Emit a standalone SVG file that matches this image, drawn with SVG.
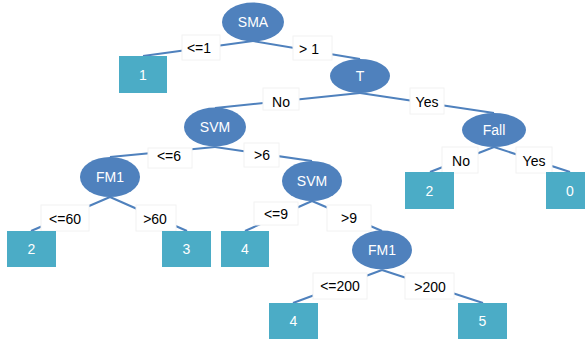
<svg xmlns="http://www.w3.org/2000/svg" width="585" height="342" viewBox="0 0 585 342">
  <style>
    .edge { stroke: #4F81BD; stroke-width: 2; fill: none; }
    .split { fill: #4F81BD; }
    .leaf { fill: #4BACC6; }
    .lbox { fill: #FFFFFF; stroke: #F2F2F2; stroke-width: 1; }
    .ntext { font-family: "Liberation Sans", Arial, sans-serif; font-size: 14px; fill: #FFFFFF; text-anchor: middle; }
    .ltext { font-family: "Liberation Sans", Arial, sans-serif; font-size: 14px; fill: #000000; text-anchor: middle; }
  </style>
  <rect width="585" height="342" fill="#FFFFFF"/>

  <!-- connectors: parent bottom to child top -->
  <g id="connectors">
    <line class="edge" x1="253" y1="41" x2="143" y2="56"/>
    <line class="edge" x1="253" y1="41" x2="360" y2="59"/>
    <line class="edge" x1="360" y1="93" x2="215" y2="108"/>
    <line class="edge" x1="360" y1="93" x2="494" y2="113"/>
    <line class="edge" x1="494" y1="147" x2="430" y2="172"/>
    <line class="edge" x1="494" y1="147" x2="570" y2="172"/>
    <line class="edge" x1="215" y1="147" x2="110" y2="157"/>
    <line class="edge" x1="215" y1="147" x2="312" y2="161"/>
    <line class="edge" x1="110" y1="197" x2="31" y2="231"/>
    <line class="edge" x1="110" y1="197" x2="187" y2="231"/>
    <line class="edge" x1="312" y1="201" x2="245" y2="231"/>
    <line class="edge" x1="312" y1="201" x2="382" y2="231"/>
    <line class="edge" x1="382" y1="270" x2="293" y2="303"/>
    <line class="edge" x1="382" y1="270" x2="483" y2="303"/>
  </g>

  <!-- edge labels -->
  <g id="edge-labels">
    <rect class="lbox" x="182" y="35" width="38" height="25"/>
    <text class="ltext" x="199" y="53">&lt;=1</text>
    <rect class="lbox" x="293" y="36" width="39" height="24"/>
    <text class="ltext" x="309" y="54">&gt; 1</text>
    <rect class="lbox" x="263" y="88" width="36" height="22"/>
    <text class="ltext" x="281" y="107">No</text>
    <rect class="lbox" x="410" y="88" width="34" height="26"/>
    <text class="ltext" x="427" y="107">Yes</text>
    <rect class="lbox" x="442" y="147" width="36" height="26"/>
    <text class="ltext" x="461" y="166">No</text>
    <rect class="lbox" x="516" y="147" width="36" height="26"/>
    <text class="ltext" x="534" y="166">Yes</text>
    <rect class="lbox" x="148" y="148" width="44" height="20"/>
    <text class="ltext" x="169" y="161">&lt;=6</text>
    <rect class="lbox" x="244" y="143" width="35" height="24"/>
    <text class="ltext" x="262" y="160">&gt;6</text>
    <rect class="lbox" x="41" y="205" width="48" height="26"/>
    <text class="ltext" x="65" y="224">&lt;=60</text>
    <rect class="lbox" x="136" y="205" width="40" height="26"/>
    <text class="ltext" x="155" y="224">&gt;60</text>
    <rect class="lbox" x="254" y="202" width="44" height="23"/>
    <text class="ltext" x="276" y="219">&lt;=9</text>
    <rect class="lbox" x="327" y="205" width="44" height="26"/>
    <text class="ltext" x="349" y="223">&gt;9</text>
    <rect class="lbox" x="313" y="273" width="54" height="26"/>
    <text class="ltext" x="340" y="291">&lt;=200</text>
    <rect class="lbox" x="405" y="273" width="49" height="26"/>
    <text class="ltext" x="430" y="292">&gt;200</text>
  </g>

  <!-- split nodes -->
  <g id="node-sma"><ellipse class="split" cx="253" cy="22" rx="31" ry="19.5"/><text class="ntext" x="253" y="27">SMA</text></g>
  <g id="node-t"><ellipse class="split" cx="360" cy="76" rx="30" ry="17"/><text class="ntext" x="360" y="81">T</text></g>
  <g id="node-svm"><ellipse class="split" cx="215" cy="127" rx="31" ry="19.5"/><text class="ntext" x="215" y="132">SVM</text></g>
  <g id="node-fall"><ellipse class="split" cx="494" cy="130" rx="32" ry="17"/><text class="ntext" x="494" y="135">Fall</text></g>
  <g id="node-fm1-a"><ellipse class="split" cx="110" cy="177" rx="30" ry="20"/><text class="ntext" x="110" y="182">FM1</text></g>
  <g id="node-svm-b"><ellipse class="split" cx="312" cy="181" rx="30" ry="20"/><text class="ntext" x="312" y="186">SVM</text></g>
  <g id="node-fm1-b"><ellipse class="split" cx="382" cy="250" rx="30" ry="19.5"/><text class="ntext" x="382" y="255">FM1</text></g>

  <!-- leaf nodes -->
  <g id="leaf-1"><rect class="leaf" x="119" y="56" width="48" height="37"/><text class="ntext" x="143" y="80">1</text></g>
  <g id="leaf-2a"><rect class="leaf" x="405" y="172" width="49" height="37"/><text class="ntext" x="429.5" y="196">2</text></g>
  <g id="leaf-0"><rect class="leaf" x="546" y="172" width="49" height="37"/><text class="ntext" x="570" y="196">0</text></g>
  <g id="leaf-2b"><rect class="leaf" x="7" y="231" width="49" height="36"/><text class="ntext" x="31.5" y="254">2</text></g>
  <g id="leaf-3"><rect class="leaf" x="162" y="231" width="49" height="36"/><text class="ntext" x="186.5" y="254">3</text></g>
  <g id="leaf-4a"><rect class="leaf" x="221" y="231" width="48" height="36"/><text class="ntext" x="245" y="254">4</text></g>
  <g id="leaf-4b"><rect class="leaf" x="269" y="303" width="49" height="36"/><text class="ntext" x="293.5" y="326">4</text></g>
  <g id="leaf-5"><rect class="leaf" x="458" y="303" width="49" height="36"/><text class="ntext" x="482.5" y="326">5</text></g>
</svg>
